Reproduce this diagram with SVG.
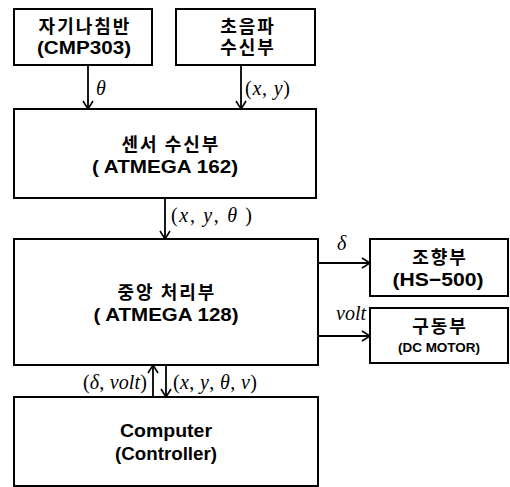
<svg xmlns="http://www.w3.org/2000/svg" width="510" height="487" viewBox="0 0 510 487">
<defs>
<style>
.box{fill:#fff;stroke:#000;stroke-width:2}
.kt{font-family:"Noto Sans CJK KR","Liberation Sans",sans-serif;font-weight:bold;font-size:18px;letter-spacing:2px;text-anchor:middle;fill:#000}
.et{font-family:"Liberation Sans",Arial,sans-serif;font-weight:bold;font-size:19px;text-anchor:middle;fill:#000}
.st{font-family:"Liberation Sans",Arial,sans-serif;font-weight:bold;font-size:12.5px;text-anchor:middle;fill:#000}
.mt{font-family:"Liberation Serif","Times New Roman",serif;font-style:italic;font-size:20px;fill:#000}
.n{font-style:normal}
.ln{stroke:#000;stroke-width:1.8;fill:none}
</style>
<marker id="ah" viewBox="0 0 10 12" refX="9" refY="6" markerWidth="10" markerHeight="12" markerUnits="userSpaceOnUse" orient="auto">
<path d="M1,1 L9,6 L1,11" fill="none" stroke="#000" stroke-width="1.6"/>
</marker>
</defs>
<g id="compass">
<rect class="box" x="14" y="9" width="138" height="56"/>
<text class="kt" x="85" y="33">자기나침반</text>
<text class="et" x="84" y="54" textLength="94" lengthAdjust="spacingAndGlyphs">(CMP303)</text>
</g>
<g id="ultrasonic">
<rect class="box" x="176" y="9" width="139" height="56"/>
<text class="kt" x="248" y="33">초음파<tspan x="248" dy="21">수신부</tspan></text>
</g>
<g id="sensor">
<rect class="box" x="14" y="109" width="302" height="89"/>
<text class="kt" x="171" y="151">센서 수신부</text>
<text class="et" x="165" y="173" textLength="146" lengthAdjust="spacingAndGlyphs">( ATMEGA 162)</text>
</g>
<g id="cpu">
<rect class="box" x="14" y="239" width="304" height="126"/>
<text class="kt" x="167" y="299">중앙 처리부</text>
<text class="et" x="166" y="321" textLength="145" lengthAdjust="spacingAndGlyphs">( ATMEGA 128)</text>
</g>
<g id="steer">
<rect class="box" x="370" y="239" width="138" height="57"/>
<text class="kt" x="440" y="264">조향부</text>
<text class="et" x="438" y="286" textLength="91" lengthAdjust="spacingAndGlyphs">(HS−500)</text>
</g>
<g id="drive">
<rect class="box" x="370" y="308" width="138" height="55"/>
<text class="kt" x="440" y="333">구동부</text>
<text class="st" x="439" y="352" textLength="82" lengthAdjust="spacingAndGlyphs">(DC MOTOR)</text>
</g>
<g id="computer">
<rect class="box" x="14" y="397" width="304" height="89"/>
<text class="et" x="166" y="437" textLength="92" lengthAdjust="spacingAndGlyphs">Computer</text>
<text class="et" x="166" y="460" textLength="102" lengthAdjust="spacingAndGlyphs">(Controller)</text>
</g>
<g id="connectors">
<line class="ln" x1="88" y1="65" x2="88" y2="109" marker-end="url(#ah)"/>
<line class="ln" x1="241" y1="65" x2="241" y2="109" marker-end="url(#ah)"/>
<line class="ln" x1="165" y1="198" x2="165" y2="239" marker-end="url(#ah)"/>
<line class="ln" x1="318" y1="263" x2="370" y2="263" marker-end="url(#ah)"/>
<line class="ln" x1="318" y1="336" x2="370" y2="336" marker-end="url(#ah)"/>
<line class="ln" x1="153" y1="397" x2="153" y2="365" marker-end="url(#ah)"/>
<line class="ln" x1="166" y1="365" x2="166" y2="397" marker-end="url(#ah)"/>
</g>
<g id="labels">
<text class="mt" x="96" y="95">θ</text>
<text class="mt" x="245" y="95" textLength="45" lengthAdjust="spacing"><tspan class="n">(</tspan>x<tspan class="n">, </tspan>y<tspan class="n">)</tspan></text>
<text class="mt" x="171" y="222" textLength="81" lengthAdjust="spacing"><tspan class="n">(</tspan>x<tspan class="n">, </tspan>y<tspan class="n">, </tspan>θ<tspan class="n"> )</tspan></text>
<text class="mt" x="337" y="250">δ</text>
<text class="mt" x="336" y="320">volt</text>
<text class="mt" x="83" y="389" textLength="64" lengthAdjust="spacing"><tspan class="n">(</tspan>δ<tspan class="n">, </tspan>volt<tspan class="n">)</tspan></text>
<text class="mt" x="173" y="389" textLength="84" lengthAdjust="spacing"><tspan class="n">(</tspan>x<tspan class="n">, </tspan>y<tspan class="n">, </tspan>θ<tspan class="n">, </tspan>v<tspan class="n">)</tspan></text>
</g>
</svg>
